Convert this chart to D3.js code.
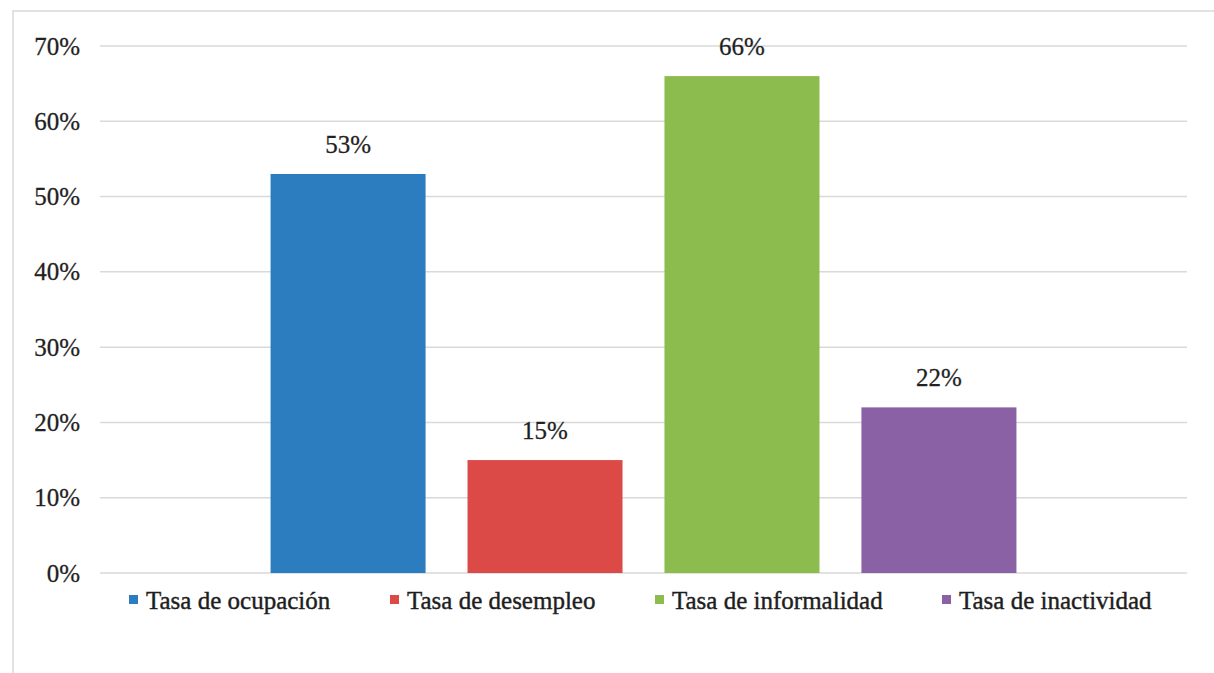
<!DOCTYPE html>
<html>
<head>
<meta charset="utf-8">
<script src="https://cdn.jsdelivr.net/npm/d3@7"></script>
<style>
  html, body { margin: 0; padding: 0; background: #ffffff; }
  svg { display: block; }
  svg text { font-family: "Liberation Serif", "DejaVu Serif", serif !important; fill: #1e1e1e; }
</style>
</head>
<body>
<script>
// Labour market indicators (single category, one bar per rate)
const seriesNames = ["Tasa de ocupación", "Tasa de desempleo", "Tasa de informalidad", "Tasa de inactividad"];
const seriesValues = [53, 15, 66, 22];
const seriesColors = ["#2b7dc0", "#dc4a47", "#8cbb4e", "#8a61a5"];
const yTicks = [0, 10, 20, 30, 40, 50, 60, 70];

const W = 1214, H = 673;
const plot = { left: 100, right: 1187, top: 46, bottom: 573 };
const serif = "'Liberation Serif', 'DejaVu Serif', serif";

const svg = d3.select("body").append("svg")
  .attr("width", W).attr("height", H)
  .attr("font-family", serif);

// chart area frame (only top and left edges fall inside the view)
svg.append("rect")
  .attr("x", 13).attr("y", 11)
  .attr("width", W + 20).attr("height", H + 20)
  .attr("fill", "#ffffff")
  .attr("stroke", "#d9d9d9").attr("stroke-width", 1.5);

const y = d3.scaleLinear().domain([0, 70]).range([plot.bottom, plot.top]);

const x = d3.scaleBand()
  .domain(seriesNames)
  .range([plot.left, plot.right])
  .paddingInner(0.213)
  .paddingOuter(0.866);

// horizontal gridlines
svg.append("g")
  .selectAll("line")
  .data(yTicks)
  .join("line")
  .attr("x1", plot.left).attr("x2", plot.right)
  .attr("y1", d => y(d)).attr("y2", d => y(d))
  .attr("stroke", "#d9d9d9").attr("stroke-width", 1.5);

// y axis labels
const yAxis = d3.axisLeft(y)
  .tickValues(yTicks)
  .tickFormat(d => d + "%")
  .tickSize(0)
  .tickPadding(0);

const yG = svg.append("g")
  .attr("transform", `translate(80,0)`)
  .call(yAxis)
  .attr("font-family", serif);
yG.select(".domain").remove();
yG.selectAll("text")
  .style("font-family", serif)
  .attr("font-size", 25)
  .attr("fill", "#2a2a2a")
  .attr("stroke", "#2a2a2a").attr("stroke-width", 0.3)
  .attr("dy", "0.32em");

// bars
const data = seriesNames.map((name, i) => ({ name, value: seriesValues[i], color: seriesColors[i] }));

svg.append("g")
  .selectAll("rect")
  .data(data)
  .join("rect")
  .attr("x", d => x(d.name))
  .attr("width", x.bandwidth())
  .attr("y", d => y(d.value))
  .attr("height", d => y(0) - y(d.value))
  .attr("fill", d => d.color);

// value labels above bars
svg.append("g")
  .selectAll("text")
  .data(data)
  .join("text")
  .style("font-family", serif)
  .attr("x", d => x(d.name) + x.bandwidth() / 2)
  .attr("y", d => y(d.value) - 21)
  .attr("text-anchor", "middle")
  .attr("font-size", 25)
  .attr("stroke", "#2a2a2a").attr("stroke-width", 0.3)
  .text(d => d.value + "%");

// legend
const legendX = [129, 390, 655, 942];
const legend = svg.append("g")
  .selectAll("g")
  .data(data)
  .join("g")
  .attr("transform", (d, i) => `translate(${legendX[i]},595)`);

legend.append("rect")
  .attr("width", 9).attr("height", 9)
  .attr("fill", d => d.color);

legend.append("text")
  .style("font-family", serif)
  .attr("x", 17)
  .attr("y", 14)
  .attr("font-size", 25)
  .attr("stroke", "#1e1e1e").attr("stroke-width", 0.4)
  .text(d => d.name);
</script>
</body>
</html>
